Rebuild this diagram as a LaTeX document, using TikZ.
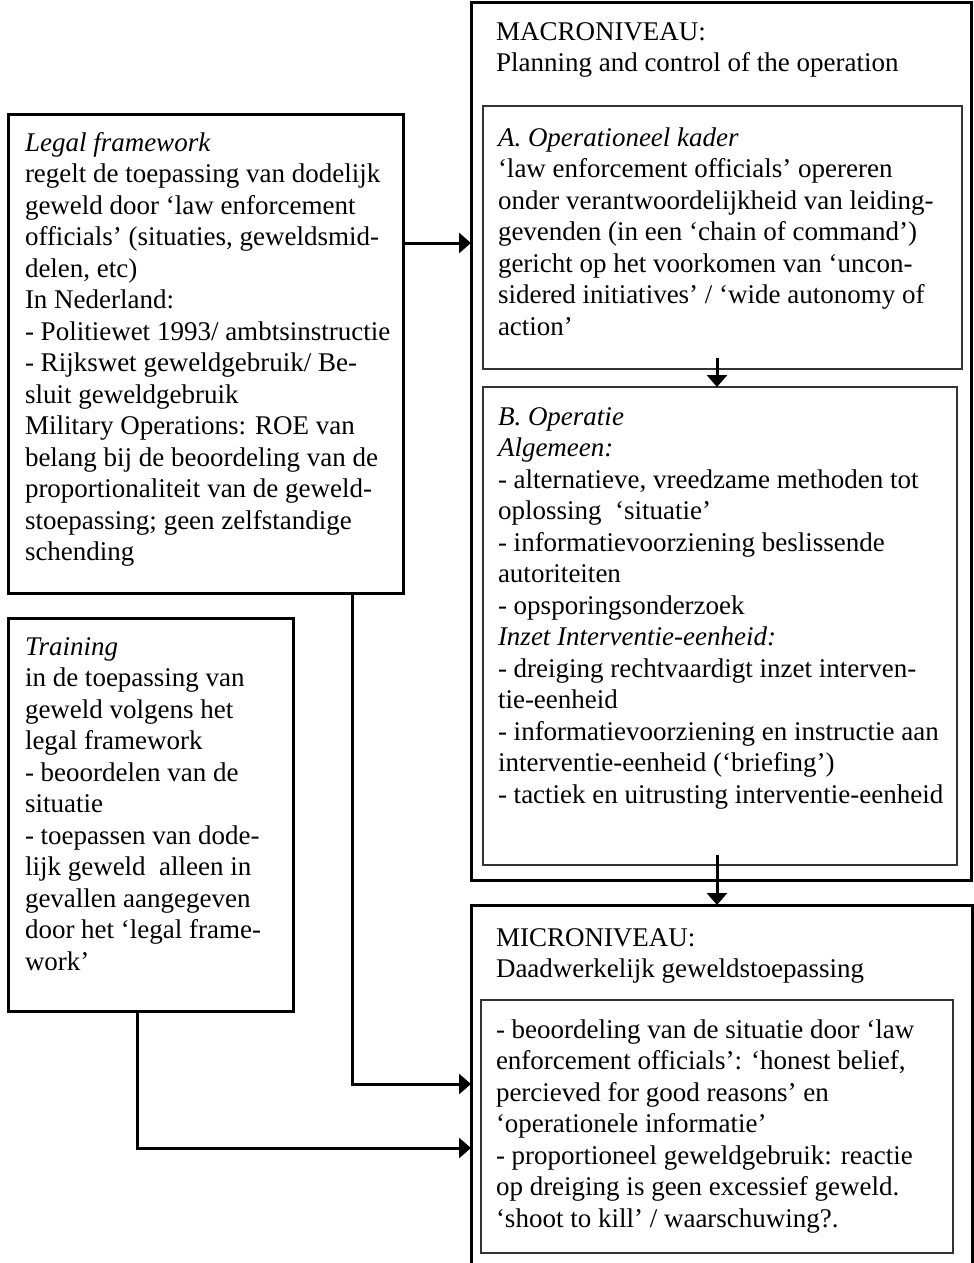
\documentclass[tikz,border=0pt]{standalone}
\usepackage{fontspec}
\setmainfont{Liberation Serif}
\usetikzlibrary{arrows.meta}
\begin{document}
\begin{tikzpicture}[x=1pt,y=-1pt,
  outerbox/.style={draw=black, line width=3pt, inner sep=0pt, outer sep=0pt, anchor=north west},
  innerbox/.style={draw=black!80, line width=1.6pt, inner sep=0pt, outer sep=0pt, anchor=north west},
  txt/.style={anchor=north west, align=left, inner sep=0pt, outer sep=0pt, font=\fontsize{27}{31.5}\selectfont},
  arr/.style={line width=3pt, -{Triangle[length=12pt,width=20pt]}}]
\useasboundingbox (0,0) rectangle (974,1263);
\clip (0,0) rectangle (974,1263);
% boxes
\node[outerbox, minimum width=395pt, minimum height=479pt] (legal) at (8,114) {};
\node[outerbox, minimum width=285pt, minimum height=393pt] (training) at (8,618) {};
\node[outerbox, minimum width=500pt, minimum height=877pt] (macro) at (471,3) {};
\node[innerbox, minimum width=479pt, minimum height=263pt] (A) at (483,106) {};
\node[innerbox, minimum width=474pt, minimum height=478pt] (B) at (483,387) {};
\node[outerbox, minimum width=501pt, minimum height=420pt] (micro) at (471,905) {};
\node[innerbox, minimum width=472pt, minimum height=253pt] (microin) at (481,1000) {};
% texts
\node[txt] (tlegal) at (25,129) {\strut\textit{Legal framework}\\
regelt de toepassing van dodelijk\\
geweld door ‘law enforcement\\
officials’ (situaties, geweldsmid-\\
delen, etc)\\
In Nederland:\\
- Politiewet 1993/ ambtsinstructie\\
- Rijkswet geweldgebruik/ Be-\\
sluit geweldgebruik\\
Military Operations: ROE van\\
belang bij de beoordeling van de\\
proportionaliteit van de geweld-\\
stoepassing; geen zelfstandige\\
schending};
\node[txt] (ttraining) at (25,633) {\strut\textit{Training}\\
in de toepassing van\\
geweld volgens het\\
legal framework\\
- beoordelen van de\\
situatie\\
- toepassen van dode-\\
lijk geweld\ \ alleen in\\
gevallen aangegeven\\
door het ‘legal frame-\\
work’};
\node[txt] (tmacro) at (496,18) {\strut MACRONIVEAU:\\
Planning and control of the operation};
\node[txt] (tA) at (498,124) {\strut\textit{A. Operationeel kader}\\
‘law enforcement officials’ opereren\\
onder verantwoordelijkheid van leiding-\\
gevenden (in een ‘chain of command’)\\
gericht op het voorkomen van ‘uncon-\\
sidered initiatives’ / ‘wide autonomy of\\
action’};
\node[txt] (tB) at (498,403) {\strut\textit{B. Operatie}\\
\textit{Algemeen:}\\
- alternatieve, vreedzame methoden tot\\
oplossing\ \ ‘situatie’\\
- informatievoorziening beslissende\\
autoriteiten\\
- opsporingsonderzoek\\
\textit{Inzet Interventie-eenheid:}\\
- dreiging rechtvaardigt inzet interven-\\
tie-eenheid\\
- informatievoorziening en instructie aan\\
interventie-eenheid (‘briefing’)\\
- tactiek en uitrusting interventie-eenheid};
\node[txt] (tmicro) at (496,924) {\strut MICRONIVEAU:\\
Daadwerkelijk geweldstoepassing};
\node[txt] (tmicroin) at (496,1016) {\strut - beoordeling van de situatie door ‘law\\
enforcement officials’: ‘honest belief,\\
percieved for good reasons’ en\\
‘operationele informatie’\\
- proportioneel geweldgebruik: reactie\\
op dreiging is geen excessief geweld.\\
‘shoot to kill’ / waarschuwing?.};
% connectors
\coordinate (c1) at (0,243);
\coordinate (c2) at (717,358);
\coordinate (c3) at (717,855);
\coordinate (c4) at (352,1084);
\coordinate (c5) at (137,1148);
\draw[arr] (legal.east |- c1) -- (macro.west |- c1);
\draw[arr] (c2) -- (c2 |- B.north);
\draw[arr] (c3) -- (c3 |- micro.north);
\draw[arr] (c4 |- legal.south) -- (c4) -- (c4 -| micro.west);
\draw[arr] (c5 |- training.south) -- (c5) -- (c5 -| micro.west);
\end{tikzpicture}
\end{document}
